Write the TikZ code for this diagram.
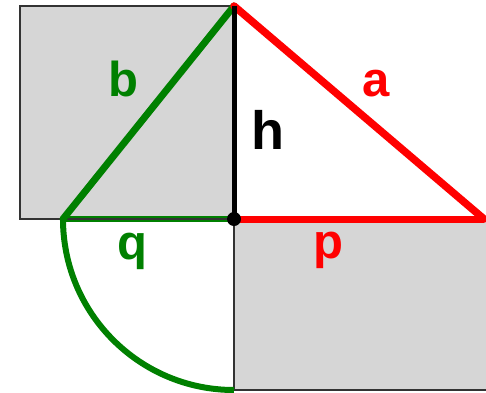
\documentclass[tikz,border=0pt]{standalone}
\usepackage{fontspec}
\setmainfont{Liberation Sans}
\usepackage{xcolor}
\usepackage{tikz}
\usetikzlibrary{calc, positioning}

\definecolor{hgreen}{RGB}{0,128,0}
\definecolor{hgray}{RGB}{214,214,214}
\tikzset{
    lbl/.style={inner sep=0pt, font=\fontsize{49}{49}\selectfont\bfseries},
}

\begin{document}
\begin{tikzpicture}[x=1pt, y=1pt]
    \useasboundingbox (0,0) rectangle (486,392);
    % --- Kich thuoc: chan duong cao H, goc vuong C ---
    \def\h{213}
    \def\q{171}
    \coordinate (H) at (234,173);
    \coordinate (C) at (234,386);
    \coordinate (B) at (63,173);
    \coordinate (A) at (484,173);

    % To mau xam hinh vuong canh h va hinh chu nhat p x q
    \fill[hgray] (20,173) rectangle (C);
    \fill[hgray] (H) rectangle (490,2);
    \draw[black!80, line width=1.3pt] (H) -- (234,2) -- (490,2);

    % Cung tron ban kinh q
    \draw[hgreen, line width=6pt] (B) arc[start angle=180, end angle=270, radius=\q];
    \draw[hgreen, line width=6pt] (B) -- (H);
    \draw[black!80, line width=1.3pt] (H) -- (20,173) -- (20,386) -- (C);

    % Tam giac vuong
    \draw[hgreen, line width=7pt, line cap=round] (B) -- (C);
    \draw[red, line width=7pt] (H) -- (A);
    \draw[red, line width=7.5pt, line cap=round] (C) -- (A);
    \draw[black, line width=5pt] (C) -- (H);
    \fill (H) circle (7);

    % Nhan
    \node[lbl, text=hgreen] (lb) at (123.5,313) {b};
    \node[lbl, text=red] (la) at (376,308) {a};
    \node[lbl, text=black, font=\fontsize{54}{54}\selectfont\bfseries] (lh) at (268,262.5) {h};
    \node[lbl, text=hgreen] (lq) at (132.5,141) {q};
    \node[lbl, text=red] (lp) at (328,141.5) {p};
\end{tikzpicture}
\end{document}
